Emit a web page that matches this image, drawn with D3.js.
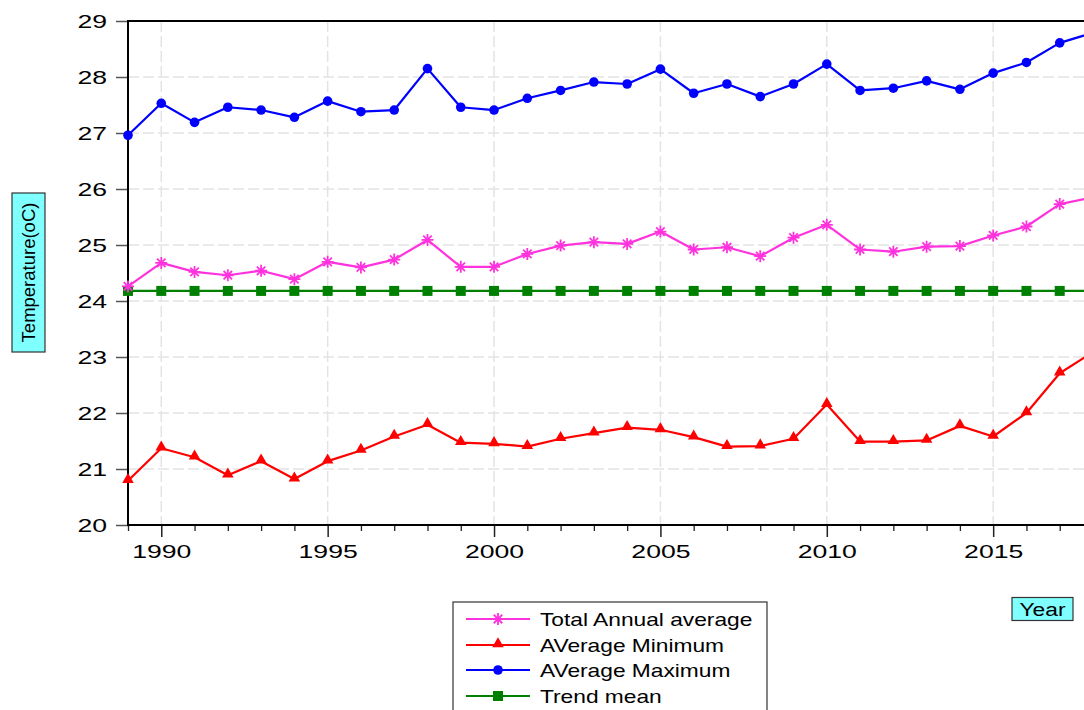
<!DOCTYPE html>
<html>
<head>
<meta charset="utf-8">
<script src="https://cdn.jsdelivr.net/npm/d3@7"></script>
<style>
  html, body { margin: 0; padding: 0; background: #fff; overflow: hidden; }
  svg { display: block; font-family: "Liberation Sans", Arial, sans-serif; }
</style>
</head>
<body>
<svg id="chart" width="1084" height="710"></svg>
<script>
// Annual temperature series, 1989–2018 (°C)
const years = d3.range(1989, 2019);
const totalAnnualAverage = [24.26, 24.68, 24.52, 24.46, 24.54, 24.39, 24.70, 24.60, 24.74, 25.09,
                            24.61, 24.61, 24.84, 24.99, 25.05, 25.02, 25.24, 24.92, 24.96, 24.80,
                            25.13, 25.36, 24.92, 24.88, 24.97, 24.98, 25.17, 25.33, 25.73, 25.85];
const averageMinimum = [20.79, 21.37, 21.21, 20.89, 21.14, 20.82, 21.14, 21.33, 21.58, 21.79,
                        21.47, 21.45, 21.40, 21.54, 21.64, 21.74, 21.70, 21.57, 21.40, 21.41,
                        21.54, 22.15, 21.49, 21.49, 21.51, 21.77, 21.58, 22.00, 22.71, 23.09];
const averageMaximum = [26.96, 27.53, 27.19, 27.46, 27.41, 27.28, 27.57, 27.38, 27.41, 28.15,
                        27.46, 27.41, 27.62, 27.76, 27.91, 27.875, 28.14, 27.71, 27.875, 27.65,
                        27.875, 28.23, 27.76, 27.80, 27.93, 27.78, 28.07, 28.26, 28.61, 28.79];
const trendMean = years.map(() => 24.18);

const yTicks = [20, 21, 22, 23, 24, 25, 26, 27, 28, 29];
const xLabelYears = [1990, 1995, 2000, 2005, 2010, 2015];
const seriesNames = ["Total Annual average", "AVerage Minimum", "AVerage Maximum", "Trend mean"];

const svg = d3.select("#chart");
const FONT = "Liberation Sans, Arial, sans-serif";
const WIDE = 1.4;      // horizontal stretch of axis labels
const WIDE_LEG = 1.23; // horizontal stretch of legend / box labels

const plot = { left: 128, top: 21, right: 1093, bottom: 525 };
const x = d3.scaleLinear().domain([1989, 2018]).range([plot.left, plot.right]);
const y = d3.scaleLinear().domain([20, 29]).range([plot.bottom, plot.top]);

// Grid lines (dashed, light grey)
const grid = svg.append("g").attr("stroke", "#e3e3e3").attr("stroke-width", 1.5)
  .attr("stroke-dasharray", "11,4");
grid.selectAll(".gy").data(yTicks.slice(1, -1)).join("line")
  .attr("x1", plot.left).attr("x2", plot.right)
  .attr("y1", d => y(d)).attr("y2", d => y(d));
grid.selectAll(".gx").data(xLabelYears).join("line")
  .attr("x1", d => x(d)).attr("x2", d => x(d))
  .attr("y1", plot.top).attr("y2", plot.bottom);

// Y axis
const yAxis = d3.axisLeft(y).tickValues(yTicks).tickSize(12).tickPadding(8).tickFormat(d3.format("d"));
const gy = svg.append("g").attr("transform", `translate(${plot.left},0)`).call(yAxis);
gy.select(".domain").remove();
gy.selectAll(".tick line").attr("stroke", "#555").attr("stroke-width", 1.5);
gy.selectAll(".tick text").attr("font-size", 19).attr("fill", "#000").attr("font-family", FONT)
  .attr("x", 0).attr("transform", `translate(-21,0) scale(${WIDE},1)`);

// X axis: minor ticks every year, longer ticks with labels every five years
const xMinor = d3.axisBottom(x).tickValues(years.filter(v => v % 5 !== 0)).tickSize(6).tickFormat("");
const gxm = svg.append("g").attr("transform", `translate(0,${plot.bottom})`).call(xMinor);
gxm.select(".domain").remove();
gxm.selectAll(".tick line").attr("stroke", "#222").attr("stroke-width", 1.3);

const xMajor = d3.axisBottom(x).tickValues(xLabelYears).tickSize(12).tickPadding(8).tickFormat(d3.format("d"));
const gx = svg.append("g").attr("transform", `translate(0,${plot.bottom})`).call(xMajor);
gx.select(".domain").remove();
gx.selectAll(".tick line").attr("stroke", "#222").attr("stroke-width", 1.5);
gx.selectAll(".tick text").attr("font-size", 19).attr("fill", "#000").attr("font-family", FONT)
  .attr("transform", `scale(${WIDE},1)`);

// Frame
const frame = svg.append("g").attr("stroke", "#000").attr("stroke-width", 2);
frame.append("line").attr("x1", plot.left).attr("x2", plot.left).attr("y1", plot.top - 1).attr("y2", plot.bottom + 1);
frame.append("line").attr("x1", plot.left).attr("x2", 1084).attr("y1", plot.top).attr("y2", plot.top);
frame.append("line").attr("x1", plot.left).attr("x2", 1084).attr("y1", plot.bottom).attr("y2", plot.bottom);

// Series
const series = [
  { name: seriesNames[0], values: totalAnnualAverage, color: "#ff33dd", marker: "asterisk" },
  { name: seriesNames[1], values: averageMinimum, color: "#ff0000", marker: "triangle" },
  { name: seriesNames[2], values: averageMaximum, color: "#0000ff", marker: "circle" },
  { name: seriesNames[3], values: trendMean, color: "#008000", marker: "square" }
];

const line = d3.line().x((d, i) => x(years[i])).y(d => y(d));

function drawMarker(g, type, color) {
  if (type === "circle") {
    g.append("circle").attr("r", 4.8).attr("fill", color);
  } else if (type === "square") {
    g.append("rect").attr("x", -5).attr("y", -5).attr("width", 10).attr("height", 10).attr("fill", color);
  } else if (type === "triangle") {
    g.append("path").attr("d", d3.symbol(d3.symbolTriangle, 58)()).attr("fill", color)
      .attr("transform", "translate(0,-1)");
  } else if (type === "asterisk") {
    const r = 6;
    const p = [];
    for (let k = 0; k < 4; k++) {
      const a = k * Math.PI / 4;
      p.push(`M${-r * Math.sin(a)},${-r * Math.cos(a)}L${r * Math.sin(a)},${r * Math.cos(a)}`);
    }
    g.append("path").attr("d", p.join("")).attr("stroke", color).attr("stroke-width", 1.8)
      .attr("fill", "none");
  }
}

// Draw order: trend first, then the others on top
const drawOrder = [3, 1, 0, 2];
drawOrder.forEach(idx => {
  const s = series[idx];
  svg.append("path").datum(s.values)
    .attr("fill", "none").attr("stroke", s.color).attr("stroke-width", 2.2)
    .attr("stroke-linejoin", "round")
    .attr("d", line);
  s.values.forEach((v, i) => {
    const g = svg.append("g").attr("transform", `translate(${x(years[i])},${y(v)})`);
    drawMarker(g, s.marker, s.color);
  });
});

// Y axis title box
const yTitle = svg.append("g").attr("transform", "translate(28.5,272.5)");
yTitle.append("rect").attr("x", -79.5).attr("y", -16.5).attr("width", 159).attr("height", 33)
  .attr("transform", "rotate(-90)")
  .attr("fill", "#80ffff").attr("stroke", "#333").attr("stroke-width", 1.2);
yTitle.append("text").attr("transform", "rotate(-90)")
  .attr("text-anchor", "middle").attr("dy", "0.36em")
  .attr("font-size", 18.5).attr("fill", "#000").text("Temperature(oC)");

// X axis title box
const xTitle = svg.append("g").attr("transform", "translate(1042.5,609)");
xTitle.append("rect").attr("x", -30.5).attr("y", -11.5).attr("width", 61).attr("height", 23)
  .attr("fill", "#80ffff").attr("stroke", "#333").attr("stroke-width", 1.2);
xTitle.append("text").attr("text-anchor", "middle").attr("dy", "0.36em")
  .attr("transform", "scale(1.2,1)")
  .attr("font-size", 19).attr("fill", "#000").text("Year");

// Legend
const legend = svg.append("g");
legend.append("rect").attr("x", 453).attr("y", 602).attr("width", 314).attr("height", 130)
  .attr("fill", "#fff").attr("stroke", "#333").attr("stroke-width", 1.2);
const rowY = [619, 645, 670, 696];
series.forEach((s, i) => {
  const row = legend.append("g").attr("transform", `translate(0,${rowY[i]})`);
  row.append("line").attr("x1", 466).attr("x2", 530).attr("y1", 0).attr("y2", 0)
    .attr("stroke", s.color).attr("stroke-width", 2);
  const m = row.append("g").attr("transform", "translate(498,0)");
  drawMarker(m, s.marker, s.color);
  row.append("text").attr("x", 0).attr("dy", "0.36em").attr("font-size", 18.5)
    .attr("transform", `translate(540,0) scale(${WIDE_LEG},1)`)
    .attr("fill", "#000").text(s.name);
});
</script>
</body>
</html>
